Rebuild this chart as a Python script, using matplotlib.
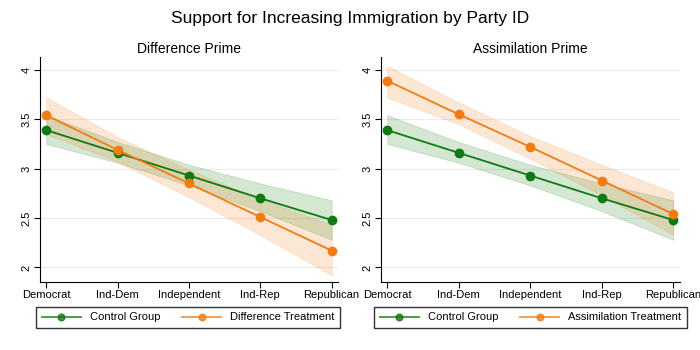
import matplotlib.pyplot as plt
import numpy as np

plt.rcParams['font.family'] = ['Liberation Sans', 'DejaVu Sans']

party = ['Democrat', 'Ind-Dem', 'Independent', 'Ind-Rep', 'Republican']

control = [3.39, 3.16, 2.93, 2.70, 2.48]
control_lo = [3.25, 3.06, 2.83, 2.57, 2.28]
control_hi = [3.54, 3.27, 3.04, 2.85, 2.68]

difference = [3.54, 3.19, 2.85, 2.51, 2.17]
difference_lo = [3.35, 3.07, 2.71, 2.33, 1.92]
difference_hi = [3.72, 3.32, 2.99, 2.69, 2.43]

assim = [3.89, 3.55, 3.22, 2.88, 2.54]
assim_lo = [3.72, 3.45, 3.10, 2.73, 2.33]
assim_hi = [4.04, 3.67, 3.33, 3.04, 2.76]

green = '#0f7a0f'
orange = '#f27c12'

fig = plt.figure(figsize=(7, 3.5), dpi=100)
fig.suptitle('Support for Increasing Immigration by Party ID', fontsize=12.5, y=0.968)

panels = [
    ([0.057, 0.195, 0.426, 0.642], 'Difference Prime', difference, difference_lo, difference_hi, 'Difference Treatment', 0.269),
    ([0.544, 0.195, 0.427, 0.642], 'Assimilation Prime', assim, assim_lo, assim_hi, 'Assimilation Treatment', 0.758),
]

x = np.arange(len(party))
for rect, title, tr, tr_lo, tr_hi, tr_name, lx in panels:
    ax = fig.add_axes(rect)
    ax.fill_between(x, control_lo, control_hi, color=green, alpha=0.18, edgecolor=green, linewidth=0.6)
    ax.fill_between(x, tr_lo, tr_hi, color=orange, alpha=0.18, edgecolor=orange, linewidth=0.6)
    l1, = ax.plot(x, control, color=green, marker='o', markersize=6, linewidth=1.3, label='Control Group')
    l2, = ax.plot(x, tr, color=orange, marker='o', markersize=6, linewidth=1.3, label=tr_name)
    ax.set_xlim(-0.09, 4.09)
    ax.set_ylim(1.855, 4.13)
    ax.set_xticks(x)
    ax.set_xticklabels(party, fontsize=8)
    ax.set_yticks([2, 2.5, 3, 3.5, 4])
    ax.set_yticklabels(['2', '2.5', '3', '3.5', '4'], fontsize=8, rotation=90, va='center')
    ax.yaxis.grid(True, color='#ececec', linewidth=0.8)
    ax.set_axisbelow(True)
    ax.spines['top'].set_visible(False)
    ax.spines['right'].set_visible(False)
    ax.tick_params(length=4, width=0.8, pad=2)
    ax.set_title(title, fontsize=10, pad=3)
    leg = fig.legend(handles=[l1, l2], loc='center', bbox_to_anchor=(lx, 0.093), ncol=2,
                     fontsize=8, frameon=True, fancybox=False, edgecolor='black',
                     handlelength=3.5, columnspacing=2.0, borderpad=0.5, markerscale=0.8)
    for h in leg.legend_handles:
        h.set_alpha(0.8)

plt.savefig('out.png', dpi=100)
